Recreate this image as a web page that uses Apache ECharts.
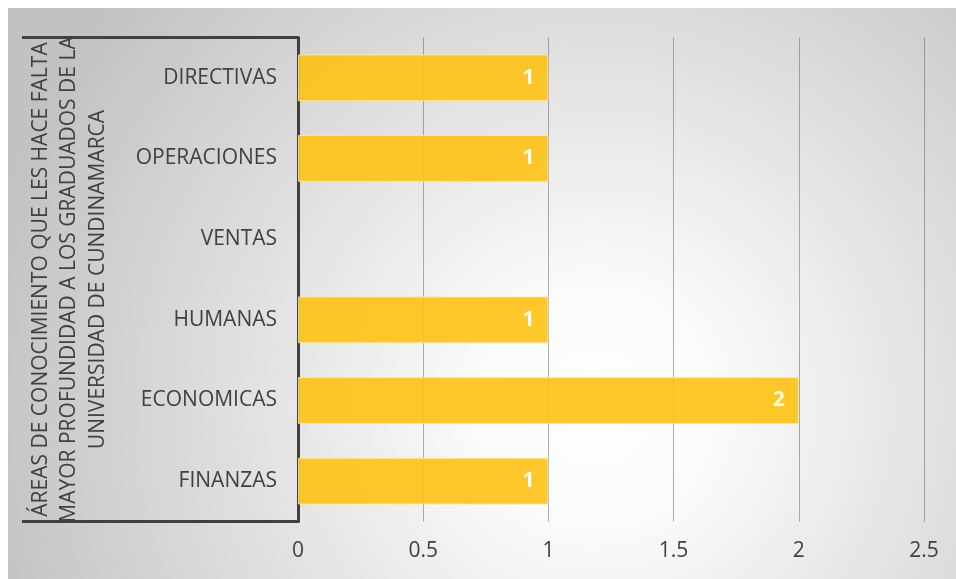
<!DOCTYPE html>
<html>
<head>
<meta charset="utf-8">
<script src="https://cdn.jsdelivr.net/npm/echarts@6/dist/echarts.min.js"></script>
<style>
html,body{margin:0;padding:0;background:#fff;}
#c{width:956px;height:579px;}
</style>
</head>
<body>
<div id="c"></div>
<script>
const categories = ['FINANZAS', 'ECONOMICAS', 'HUMANAS', 'VENTAS', 'OPERACIONES', 'DIRECTIVAS'];
const values = [1, 2, 1, null, 1, 1];
const xTicks = [0, 0.5, 1, 1.5, 2, 2.5];
const axisTitle = 'ÁREAS DE CONOCIMIENTO QUE LES HACE FALTA\nMAYOR PROFUNDIDAD A LOS GRADUADOS DE LA\nUNIVERSIDAD DE CUNDINAMARCA';

const chart = echarts.init(document.getElementById('c'), null, {renderer: 'canvas'});
const FONT = '"Open Sans", "Noto Sans", sans-serif';
const TXT = '#404040';
const FS = 21;
const gridL = 298, gridT = 37.5, gridB = 57.5, gridR = 32;

chart.setOption({
  animation: false,
  backgroundColor: '#ffffff',
  textStyle: {fontFamily: FONT},
  graphic: [
    {
      type: 'rect', z: -10, silent: true,
      shape: {x: 8, y: 8, width: 948, height: 571},
      style: {
        fill: new echarts.graphic.RadialGradient(0.62, 0.7, 1.1, [
          {offset: 0, color: '#ffffff'},
          {offset: 0.2, color: '#fafafa'},
          {offset: 1, color: '#c2c2c2'}
        ])
      }
    },
    {
      type: 'line', z: 10, silent: true,
      shape: {x1: 22, y1: gridT, x2: gridL, y2: gridT},
      style: {stroke: TXT, lineWidth: 3}
    },
    {
      type: 'line', z: 10, silent: true,
      shape: {x1: 22, y1: 579 - gridB, x2: gridL, y2: 579 - gridB},
      style: {stroke: TXT, lineWidth: 3}
    }
  ],
  grid: {left: gridL, right: gridR, top: gridT, bottom: gridB, containLabel: false},
  xAxis: {
    type: 'value',
    min: xTicks[0], max: xTicks[xTicks.length - 1], interval: 0.5,
    axisLine: {show: false},
    axisTick: {show: false},
    axisLabel: {color: TXT, fontSize: FS, fontFamily: FONT, margin: 19},
    splitLine: {show: true, lineStyle: {color: 'rgba(80,80,80,0.45)', width: 1}}
  },
  yAxis: {
    type: 'category',
    data: categories,
    axisLine: {show: true, lineStyle: {color: TXT, width: 3}},
    axisTick: {show: false},
    axisLabel: {color: TXT, fontSize: FS, fontFamily: FONT, margin: 21},
    splitLine: {show: false},
    name: axisTitle,
    nameLocation: 'middle',
    nameRotate: 90,
    nameGap: 186,
    nameTextStyle: {color: TXT, fontSize: FS, fontFamily: FONT, lineHeight: 28.5, align: 'center'}
  },
  series: [{
    type: 'bar',
    data: values,
    barCategoryGap: '42%',
    itemStyle: {color: '#FEC113', opacity: 0.9, borderColor: 'rgba(255,235,170,0.9)', borderWidth: 1},
    label: {
      show: true,
      position: 'insideRight',
      distance: 14,
      color: '#ffffff',
      fontWeight: 'bold',
      fontSize: FS,
      fontFamily: FONT,
      formatter: p => (p.value ? String(p.value) : '')
    }
  }]
});
</script>
</body>
</html>
